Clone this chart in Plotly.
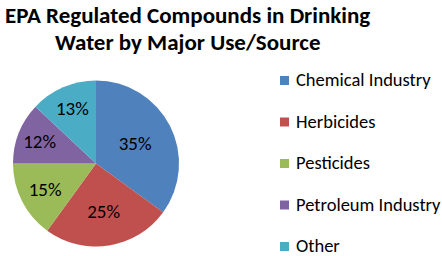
import plotly.graph_objects as go

categories = ["Chemical Industry", "Herbicides", "Pesticides", "Petroleum Industry", "Other"]
values = [35, 25, 15, 12, 13]
colors = ["#4F81BD", "#C0504D", "#9BBB59", "#8064A2", "#4BACC6"]
title_lines = ["EPA Regulated Compounds in Drinking", "Water by Major Use/Source"]

W, H = 442, 256
FONT = "Carlito, Calibri, Lato, sans-serif"

fig = go.Figure(go.Pie(
    labels=categories,
    values=values,
    marker=dict(colors=colors, line=dict(width=0)),
    sort=False,
    direction="clockwise",
    rotation=0,
    textinfo="percent",
    textposition="inside",
    insidetextorientation="horizontal",
    textfont=dict(family=FONT, size=19, color="black"),
    domain=dict(x=[13 / W, 179 / W], y=[(H - 247) / H, (H - 80) / H]),
    showlegend=False,
    hoverinfo="label+percent",
))

annotations = []
shapes = []

# title (two centred lines)
for j, (line, ytop) in enumerate(zip(title_lines, [0, 27])):
    annotations.append(dict(text="<b>" + line + "</b>", xref="paper", yref="paper",
                            x=187 / W, y=(H - ytop) / H, xanchor="center", yanchor="top",
                            showarrow=False, borderpad=0,
                            font=dict(family=FONT, size=23, color="black")))

# manual legend
legend_y0 = 80.5
legend_gap = 41.5
for i, (lab, col) in enumerate(zip(categories, colors)):
    yc = legend_y0 + i * legend_gap
    shapes.append(dict(type="rect", xref="paper", yref="paper",
                       x0=280 / W, x1=289 / W,
                       y0=(H - yc - 4.5) / H, y1=(H - yc + 4.5) / H,
                       fillcolor=col, line=dict(width=0)))
    annotations.append(dict(text=lab, xref="paper", yref="paper",
                            x=294 / W, y=(H - yc + 1) / H, xanchor="left", yanchor="middle",
                            showarrow=False,
                            font=dict(family=FONT, size=18.5, color="black")))

fig.update_layout(
    width=W, height=H,
    margin=dict(l=0, r=0, t=0, b=0),
    paper_bgcolor="white",
    plot_bgcolor="white",
    shapes=shapes,
    annotations=annotations,
)

fig.write_html("out.html")
